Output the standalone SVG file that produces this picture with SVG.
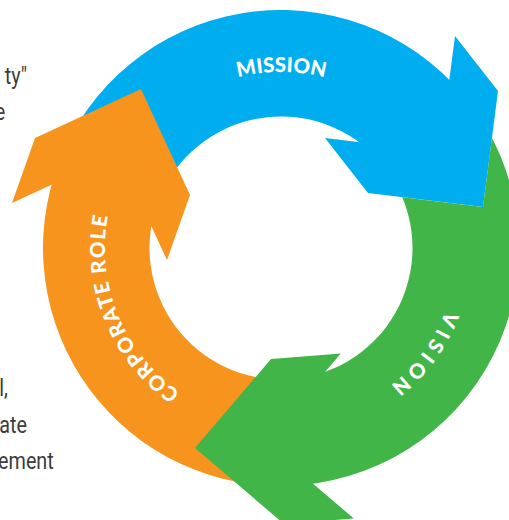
<svg xmlns="http://www.w3.org/2000/svg" width="509" height="520" viewBox="0 0 509 520">
  <style>
    .blue { fill: #00AEEF; }
    .orange { fill: #F7941E; }
    .green { fill: #42B549; }
    .label { fill: #FFFFFF; font-family: Lato, "Open Sans", "DejaVu Sans", sans-serif; font-weight: 900; font-size: 20.5px; }
    .side { fill: #3C3C3C; font-family: Roboto, "Liberation Sans", sans-serif; font-size: 23px; }
  </style>
  <defs>
    <path id="ring" d="M 457,248 A 176 176 0 1 1 105,248 A 176 176 0 1 1 457,248"/>
  </defs>

  <g id="page-text" class="side" transform="scale(0.86,1)">
    <text x="31.4" y="84" text-anchor="end">ty"</text>
    <text x="6" y="120" text-anchor="end">e</text>
    <text x="9.3" y="396" text-anchor="end">l,</text>
    <text x="31.4" y="433" text-anchor="end">ate</text>
    <text x="62.5" y="469" text-anchor="end">ement</text>
  </g>

  <g id="connectors"></g>

  <g id="mission">
    <path class="blue" d="M 79.16,121.88 A 238 238 0 0 1 489.16,132.62 L 396.01,184.25 A 131.5 131.5 0 0 0 169.48,178.32 Z"/>
    <polygon class="blue" points="483,207 498,91 455,36 440,152 325,138 368,193"/>
    <text class="label"><textPath href="#ring" startOffset="829.4" text-anchor="middle" textLength="88" lengthAdjust="spacing">MISSION</textPath></text>
  </g>

  <g id="corporate-role">
    <path class="orange" d="M 252.0,484.2 A 238 238 0 0 1 79.16,121.88 L 169.48,178.32 A 131.5 131.5 0 0 0 264.97,378.52 Z"/>
    <polygon class="orange" points="141,89 190,195 167,260 118,154 12,203 35,138"/>
    <text class="label"><textPath href="#ring" startOffset="484.4" text-anchor="middle" textLength="201" lengthAdjust="spacing">CORPORATE ROLE</textPath></text>
  </g>

  <g id="vision">
    <path class="green" d="M 491.9,137.8 A 238 238 0 0 1 252.0,484.2 L 264.97,378.52 A 131.5 131.5 0 0 0 402.3,197.2 L 483,207 Z"/>
    <polygon class="green" points="195,448 271,359 340.8,353.5 264.8,442.5 353.8,518.5 284,524"/>
    <text class="label"><textPath href="#ring" startOffset="110.9" text-anchor="middle" textLength="94" lengthAdjust="spacing">VISION</textPath></text>
  </g>
</svg>
